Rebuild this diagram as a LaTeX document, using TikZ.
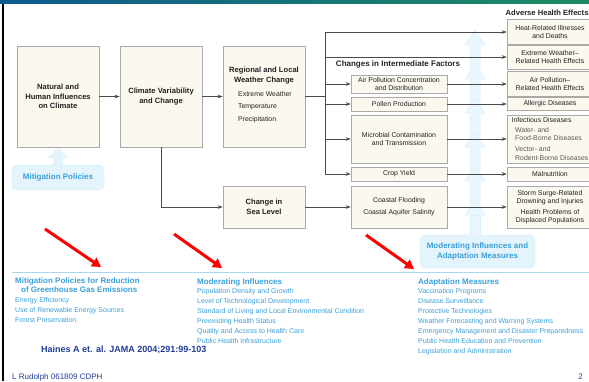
\documentclass[tikz,border=0pt]{standalone}
\usepackage{fontspec}
\setmainfont{Liberation Sans}
\usetikzlibrary{arrows.meta,calc}
\definecolor{boxfill}{HTML}{FBF8EF}
\definecolor{boxline}{HTML}{A9A9A6}
\definecolor{ink}{HTML}{222222}
\definecolor{subink}{HTML}{5A5A5A}
\definecolor{flowline}{HTML}{4A4A4A}
\definecolor{sky}{HTML}{3A9FDA}
\definecolor{skyfill}{HTML}{E4F4FC}
\definecolor{skyedge}{HTML}{D2EBF8}
\definecolor{chevfill}{HTML}{E9F6FD}
\definecolor{chevedge}{HTML}{DAEFFA}
\definecolor{rule}{HTML}{A8D8F0}
\definecolor{navy}{HTML}{1F3C98}
\definecolor{barL}{HTML}{0E5A8E}
\definecolor{barR}{HTML}{1E8C63}

\tikzset{
  stage/.style={draw=boxline, fill=boxfill, line width=0.6pt, inner sep=0pt, text=ink,
    align=center, font=\fontsize{7.6}{9.6}\selectfont\bfseries},
  factor/.style={draw=boxline, fill=boxfill, line width=0.6pt, inner sep=0pt, text=ink,
    align=center, font=\fontsize{6.9}{8}\selectfont},
  flow/.style={draw=flowline, line width=0.6pt, -{Stealth[length=5pt,width=3.6pt]}},
  link/.style={draw=flowline, line width=0.6pt},
  policy/.style={fill=skyfill, draw=skyedge, line width=0.4pt, rounded corners=5pt, text=sky,
    font=\fontsize{8}{10.5}\selectfont\bfseries, align=center, inner sep=0pt},
  pointer/.style={draw=red, line width=3pt, -{Triangle[length=9pt,width=10pt]}},
  heading/.style={font=\fontsize{8}{10}\selectfont\bfseries, text=ink, inner sep=0pt},
  listhead/.style={anchor=north west, text=sky, font=\fontsize{8}{9}\selectfont\bfseries,
    inner sep=0pt, align=left},
  listbody/.style={anchor=north west, text=sky, font=\fontsize{7}{10}\selectfont,
    inner sep=0pt, align=left},
}

\begin{document}
\begin{tikzpicture}[x=1pt,y=-1pt]
\useasboundingbox (0,0) rectangle (589,381);
\clip (0,0) rectangle (589,381);

% slide frame
\shade[left color=barL, right color=barR] (0,0) rectangle (589,3.5);
\fill[black] (1.5,3.5) rectangle (3.8,381);

% rising chevrons behind the diagram
\foreach \t in {30,64,98,132,166,200}{
  \filldraw[fill=chevfill, draw=chevedge, line width=0.5pt]
    (475,\t) -- (485,\t+15) -- (480,\t+15) -- (480,\t+38) -- (470,\t+38)
    -- (470,\t+15) -- (465,\t+15) -- cycle;
}
\filldraw[fill=chevfill, draw=chevedge, line width=0.5pt] (470,215) rectangle (480,236);

% arrow from the mitigation box
\fill[skyfill] (53,167) -- (53,158) -- (47,158) -- (58,147.5) -- (69,158) -- (63,158) -- (63,167) -- cycle;

% main chain
\node[stage, minimum width=82pt, minimum height=101pt] (natural) at (58,96.5)
  {Natural and\\Human Influences\\on Climate};
\node[stage, minimum width=82pt, minimum height=101pt] (variab) at (161,96.5)
  {Climate Variability\\and Change};
\node[stage, minimum width=82pt, minimum height=101pt] (regional) at (264,96.5) {};
\node[stage, fill=none, draw=none] (regtitle) at (264,75.5) {Regional and Local\\Weather Change};
\node[anchor=north west, inner sep=0pt, text=ink, align=left,
  font=\fontsize{6.9}{12.5}\selectfont] (reglist) at (238,91)
  {Extreme Weather\\Temperature\\Precipitation};
\node[stage, minimum width=82pt, minimum height=42pt] (sea) at (264,207) {Change in\\Sea Level};

\node[policy, minimum width=92pt, minimum height=25pt] (mitig) at (58,177.5) {Mitigation Policies};

% intermediate factors
\node[heading] (midtitle) at (398,64) {Changes in Intermediate Factors};
\node[factor, minimum width=96pt, minimum height=18pt] (air) at (399,84)
  {Air Pollution Concentration\\and Distribution};
\node[factor, minimum width=96pt, minimum height=14pt] (pollen) at (399,104) {Pollen Production};
\node[factor, minimum width=96pt, minimum height=48pt] (microbe) at (399,139)
  {Microbial Contamination\\and Transmission};
\node[factor, minimum width=96pt, minimum height=14pt] (crop) at (399,174) {Crop Yield};
\node[factor, minimum width=96pt, minimum height=42pt, font=\fontsize{6.9}{12}\selectfont]
  (coast) at (399,207) {Coastal Flooding\\Coastal Aquifer Salinity};

% adverse health effects
\node[heading, anchor=west, font=\fontsize{7.6}{10}\selectfont\bfseries] (healthtitle)
  at (505.5,12.5) {Adverse Health Effects};
\node[factor, minimum width=86pt, minimum height=25pt] (heat) at (550,32)
  {Heat-Related Illnesses\\and Deaths};
\node[factor, minimum width=86pt, minimum height=24pt] (extreme) at (550,57)
  {Extreme Weather–\\Related Health Effects};
\node[factor, minimum width=86pt, minimum height=25pt] (airfx) at (550,84)
  {Air Pollution–\\Related Health Effects};
\node[factor, minimum width=86pt, minimum height=13pt] (allergy) at (550,104) {Allergic Diseases};
\node[factor, minimum width=86pt, minimum height=48pt] (infect) at (550,139) {};
\node[anchor=north west, inner sep=0pt, text=ink, align=left,
  font=\fontsize{6.9}{8.5}\selectfont] (infectlist) at (511.5,117.5)
  {Infectious Diseases\\[1pt]
   \hspace*{3.5pt}\textcolor{subink}{Water- and}\\
   \hspace*{3.5pt}\textcolor{subink}{Food-Borne Diseases}\\[2.5pt]
   \hspace*{3.5pt}\textcolor{subink}{Vector- and}\\
   \hspace*{3.5pt}\textcolor{subink}{Rodent-Borne Diseases}};
\node[factor, minimum width=86pt, minimum height=14pt] (malnut) at (550,174) {Malnutrition};
\node[factor, minimum width=86pt, minimum height=42pt] (storm) at (550,207)
  {Storm Surge-Related\\Drowning and Injuries\\[3pt]Health Problems of\\Displaced Populations};

\node[policy, minimum width=115pt, minimum height=33pt] (moder) at (477.5,251.5)
  {Moderating Influences and\\Adaptation Measures};

% connectors
\coordinate (trunktop) at (325,32);
\coordinate (trunkbot) at (325,174);
\draw[flow] (natural) -- (variab);
\draw[flow] (variab) -- (regional);
\draw[flow] (variab.south) |- (sea.west);
\draw[link] (regional.east) -- (regional.east -| trunktop);
\draw[link] (trunktop) -- (trunkbot);
\draw[flow] (heat.west -| trunktop) -- (heat.west);
\draw[flow] (extreme.west -| trunktop) -- (extreme.west);
\draw[flow] (air.west -| trunktop) -- (air.west);
\draw[flow] (pollen.west -| trunktop) -- (pollen.west);
\draw[flow] (microbe.west -| trunktop) -- (microbe.west);
\draw[flow] (trunkbot) -- (crop.west);
\draw[flow] (sea.east) -- (coast.west);
\draw[flow] (air.east) -- (air.east -| airfx.west);
\draw[flow] (pollen.east) -- (pollen.east -| allergy.west);
\draw[flow] (microbe.east) -- (microbe.east -| infect.west);
\draw[flow] (crop.east) -- (crop.east -| malnut.west);
\draw[flow] (coast.east) -- (coast.east -| storm.west);

% red pointers to the lists
\coordinate (p1s) at (45,229);  \coordinate (p1e) at (101,267);
\coordinate (p2s) at (174,234); \coordinate (p2e) at (222,268);
\coordinate (p3s) at (366,235); \coordinate (p3e) at (414,269);
\draw[pointer] (p1s) -- (p1e);
\draw[pointer] (p2s) -- (p2e);
\draw[pointer] (p3s) -- (p3e);

% divider
\coordinate (ruleL) at (12,272.5);
\coordinate (ruleR) at (589,272.5);
\draw[rule, line width=0.9pt] (ruleL) -- (ruleR);

% lists
\node[listhead] (mithead) at (15,277)
  {Mitigation Policies for Reduction\\\hspace*{6pt}of Greenhouse Gas Emissions};
\node[listbody] (mitbody) at (15,297)
  {Energy Efficiency\\Use of Renewable Energy Sources\\Forest Preservation};
\node[listhead] (modhead) at (197,278) {Moderating Influences};
\node[listbody] (modbody) at (197,288)
  {Population Density and Growth\\Level of Technological Development\\
   Standard of Living and Local Environmental Condition\\Preexisting Health Status\\
   Quality and Access to Health Care\\Public Health Infrastructure};
\node[listhead] (adahead) at (418,278) {Adaptation Measures};
\node[listbody] (adabody) at (418,288)
  {Vaccination Programs\\Disease Surveillance\\Protective Technologies\\
   Weather Forecasting and Warning Systems\\
   Emergency Management and Disaster Preparedness\\
   Public Health Education and Prevention\\Legislation and Administration};

% footer
\node[anchor=west, inner sep=0pt, text=navy, font=\fontsize{9}{10}\selectfont\bfseries]
  (cite) at (41,349.5) {Haines A et. al. JAMA 2004;291:99-103};
\node[anchor=west, inner sep=0pt, text=navy, font=\fontsize{8}{10}\selectfont]
  (author) at (12,377) {L Rudolph 061809 CDPH};
\node[anchor=east, inner sep=0pt, text=navy, font=\fontsize{8}{10}\selectfont]
  (page) at (583,377) {2};
\end{tikzpicture}
\end{document}
